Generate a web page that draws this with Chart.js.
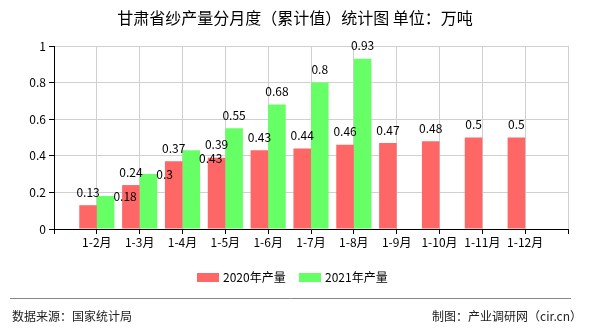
<!DOCTYPE html>
<html>
<head>
<meta charset="utf-8">
<script src="https://cdn.jsdelivr.net/npm/chart.js@4/dist/chart.umd.min.js"></script>
<style>
  html, body { margin: 0; padding: 0; background: #fff; }
  #wrap { position: relative; width: 590px; height: 330px; }
</style>
</head>
<body>
<div id="wrap"><canvas id="yarnChart" width="590" height="330"></canvas></div>
<script>
var months = ['1-2月', '1-3月', '1-4月', '1-5月', '1-6月', '1-7月', '1-8月', '1-9月', '1-10月', '1-11月', '1-12月'];
var output2020 = [0.13, 0.24, 0.37, 0.39, 0.43, 0.44, 0.46, 0.47, 0.48, 0.5, 0.5];
var output2021 = [0.18, 0.3, 0.43, 0.55, 0.68, 0.8, 0.93, null, null, null, null];
var yTicks = [0, 0.2, 0.4, 0.6, 0.8, 1];

var titleText = '甘肃省纱产量分月度（累计值）统计图 单位：万吨';
var sourceText = '数据来源：国家统计局';
var makerText = '制图：产业调研网（cir.cn）';

var RED = '#ff6666';
var GREEN = '#66ff66';
var FONT = '"Noto Sans CJK SC", "DejaVu Sans", sans-serif';

// empty slot on both ends so the month ticks sit between the axis edges
var labels = [''].concat(months).concat(['']);
function padSeries(arr) {
    return [null].concat(arr).concat([null]);
}

function fmt(v) {
    return String(+v.toFixed(2));
}

// value labels: red ones centred above the bar, green ones moved aside when they collide
var valueLabels = {
    id: 'valueLabels',
    afterDatasetsDraw: function(chart) {
        var ctx = chart.ctx;
        ctx.save();
        ctx.font = '12px ' + FONT;
        ctx.fillStyle = '#000';
        ctx.textBaseline = 'middle';
        var placed = [];
        function hits(box) {
            for (var k = 0; k < placed.length; k++) {
                var p = placed[k];
                if (box.x1 < p.x2 && box.x2 > p.x1 && box.y1 < p.y2 + 1 && box.y2 > p.y1 - 1) return true;
            }
            return false;
        }
        chart.data.datasets.forEach(function(ds, di) {
            var meta = chart.getDatasetMeta(di);
            ds.data.forEach(function(v, i) {
                if (v === null || v === undefined) return;
                var bar = meta.data[i];
                var txt = fmt(v);
                var w = ctx.measureText(txt).width;
                var cx = bar.x, cy = bar.y - 13;
                var box = { x1: cx - w / 2, x2: cx + w / 2, y1: cy - 6, y2: cy + 6 };
                if (hits(box)) {
                    var left = bar.x + bar.width / 2 - 1;
                    cy = bar.y;
                    box = { x1: left, x2: left + w, y1: cy - 6, y2: cy + 6 };
                    while (hits(box)) {
                        cy += 1;
                        box.y1 = cy - 6;
                        box.y2 = cy + 6;
                    }
                    cx = left + w / 2;
                }
                placed.push(box);
                ctx.textAlign = 'center';
                ctx.fillText(txt, cx, cy);
            });
        });
        ctx.restore();
    }
};

// title, legend and footer
var decorations = {
    id: 'decorations',
    afterDraw: function(chart) {
        var ctx = chart.ctx;
        ctx.save();
        ctx.fillStyle = '#000';
        ctx.textBaseline = 'middle';

        ctx.font = '16px ' + FONT;
        ctx.textAlign = 'center';
        ctx.fillText(titleText, 295, 18);

        ctx.font = '12px ' + FONT;
        ctx.textAlign = 'left';
        ctx.fillStyle = RED;
        ctx.fillRect(197, 273, 22, 9);
        ctx.fillStyle = '#000';
        ctx.fillText(chart.data.datasets[0].label, 223, 277.5);
        ctx.fillStyle = GREEN;
        ctx.fillRect(299, 273, 22, 9);
        ctx.fillStyle = '#000';
        ctx.fillText(chart.data.datasets[1].label, 325, 277.5);

        ctx.strokeStyle = '#888';
        ctx.lineWidth = 1;
        ctx.beginPath();
        ctx.moveTo(10, 298.5);
        ctx.lineTo(571, 298.5);
        ctx.stroke();

        ctx.fillStyle = '#222';
        ctx.fillText(sourceText, 12, 316);
        ctx.textAlign = 'right';
        ctx.fillText(makerText, 582, 316);
        ctx.restore();
    }
};

var chart = new Chart(document.getElementById('yarnChart'), {
    type: 'bar',
    data: {
        labels: labels,
        datasets: [{
            label: '2020年产量',
            data: padSeries(output2020),
            backgroundColor: RED,
            categoryPercentage: 0.82,
            barPercentage: 1
        }, {
            label: '2021年产量',
            data: padSeries(output2021),
            backgroundColor: GREEN,
            categoryPercentage: 0.82,
            barPercentage: 1
        }]
    },
    options: {
        responsive: false,
        animation: false,
        events: [],
        layout: {
            padding: { top: 46, right: 22, bottom: 77, left: 0 }
        },
        plugins: {
            legend: { display: false },
            title: { display: false },
            tooltip: { enabled: false }
        },
        scales: {
            x: {
                offset: false,
                grid: {
                    offset: false,
                    color: '#d0d0d0',
                    tickColor: '#000',
                    tickLength: 5
                },
                border: { color: '#000', width: 1 },
                ticks: {
                    autoSkip: false,
                    maxRotation: 0,
                    color: '#000',
                    padding: 1,
                    font: { family: FONT, size: 12 }
                },
                afterFit: function(scale) { scale.height = 24; }
            },
            y: {
                min: 0,
                max: 1,
                afterBuildTicks: function(scale) {
                    scale.ticks = yTicks.map(function(v) { return { value: v }; });
                },
                grid: {
                    color: '#d0d0d0',
                    tickColor: '#000',
                    tickLength: 5
                },
                border: { color: '#000', width: 1 },
                ticks: {
                    color: '#000',
                    padding: 3,
                    font: { family: FONT, size: 12 },
                    callback: function(v) { return fmt(v); }
                },
                afterFit: function(scale) { scale.width = 54; }
            }
        }
    },
    plugins: [valueLabels, decorations]
});
</script>
</body>
</html>
